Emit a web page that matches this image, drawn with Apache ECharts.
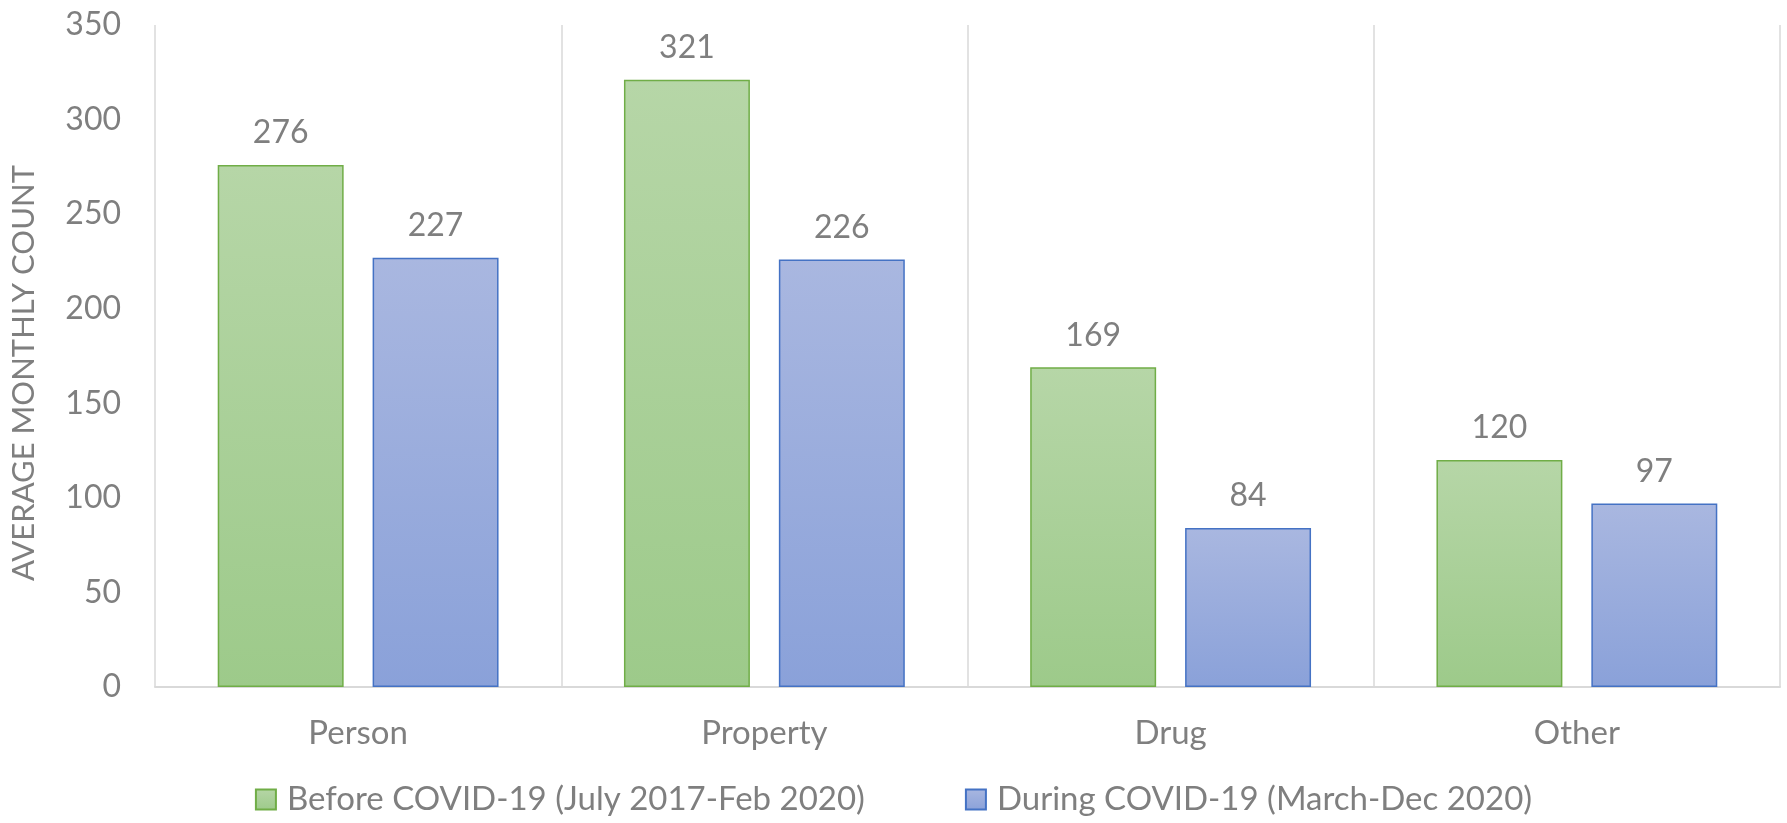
<!DOCTYPE html>
<html>
<head>
<meta charset="utf-8">
<script src="https://cdn.jsdelivr.net/npm/echarts@6/dist/echarts.min.js"></script>
<style>
  html, body { margin: 0; padding: 0; background: #fff; }
  #chart { width: 1787px; height: 823px; }
</style>
</head>
<body>
<div id="chart"></div>
<script>
// data
const categories = ['Person', 'Property', 'Drug', 'Other'];
const beforeCovid = [276, 321, 169, 120];
const duringCovid = [227, 226, 84, 97];
const seriesNames = ['Before COVID-19 (July 2017-Feb 2020)', 'During COVID-19 (March-Dec 2020)'];

const textColor = '#7f7f7f';
const font = 'Lato';

let myChart = echarts.init(document.getElementById('chart'));

function grad(top, bottom) {
  return new echarts.graphic.LinearGradient(0, 0, 0, 1, [
    { offset: 0, color: top },
    { offset: 1, color: bottom }
  ]);
}

myChart.setOption({
  animation: false,
  textStyle: { fontFamily: font },
  grid: { left: 155, right: 7, top: 25, bottom: 136 },
  legend: {
    bottom: 2,
    left: 'center',
    icon: 'rect',
    itemWidth: 20,
    itemHeight: 20,
    itemGap: 100,
    textStyle: { color: textColor, fontSize: 33, fontFamily: font, padding: [0, 0, 0, 6] },
    data: seriesNames
  },
  xAxis: {
    type: 'category',
    data: categories,
    axisLine: { lineStyle: { color: '#d9d9d9', width: 2 } },
    axisTick: { show: false },
    axisLabel: { color: textColor, fontSize: 33, margin: 30 },
    splitLine: { show: true, lineStyle: { color: '#d9d9d9', width: 1.5 } }
  },
  yAxis: {
    type: 'value',
    min: 0,
    max: 350,
    interval: 50,
    name: 'AVERAGE MONTHLY COUNT',
    nameLocation: 'middle',
    nameRotate: 90,
    nameGap: 116,
    // push the title a little below the middle, as in the original
    nameTextStyle: { color: textColor, fontSize: 31, padding: [0, 34, 0, 0] },
    axisLine: { show: false },
    axisTick: { show: false },
    axisLabel: { color: textColor, fontSize: 32, margin: 34 },
    splitLine: { show: false }
  },
  series: [
    {
      name: seriesNames[0],
      type: 'bar',
      data: beforeCovid,
      barWidth: '31%',
      barGap: '23%',
      itemStyle: { color: grad('#b6d6a7', '#9dca8a'), borderColor: '#70ad47', borderWidth: 1.5 },
      label: { show: true, position: 'top', distance: 16, color: textColor, fontSize: 32 }
    },
    {
      name: seriesNames[1],
      type: 'bar',
      data: duringCovid,
      barWidth: '31%',
      itemStyle: { color: grad('#a9b7e0', '#8aa1d9'), borderColor: '#4472c4', borderWidth: 1.5 },
      label: { show: true, position: 'top', distance: 16, color: textColor, fontSize: 32 }
    }
  ]
});
window.onresize = myChart.resize;
</script>
</body>
</html>
